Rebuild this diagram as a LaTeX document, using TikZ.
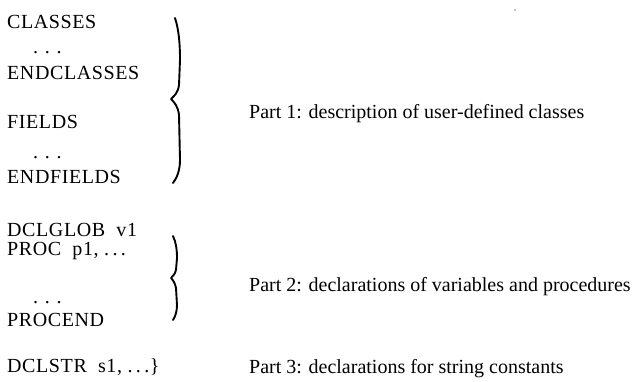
\documentclass[tikz,border=0pt]{standalone}
\usepackage{fontspec}
\setmainfont{Liberation Serif}
\begin{document}
\begin{tikzpicture}[x=1pt,y=-1pt,
  txt/.style={anchor=base west,inner sep=0pt,font=\fontsize{20}{24}\selectfont},
  code/.style={txt,font=\fontsize{20}{24}\selectfont\addfontfeatures{LetterSpace=3}},
  brace/.style={line width=1.9pt,line cap=round,line join=round}]
\useasboundingbox (0,0) rectangle (643,381);
% part 1
\node[code] (cls) at (7,28) {CLASSES};
\node[txt] (d1) at (33,53) {.\,\,.\,\,.};
\node[code] (ecls) at (7,79) {ENDCLASSES};
\node[code] (fld) at (7,128) {FIELDS};
\node[txt] (d2) at (33,158) {.\,\,.\,\,.};
\node[code] (efld) at (7,183) {ENDFIELDS};
\draw[brace] (175,18) .. controls (179,30) and (180,45) .. (180,60) -- (179,85)
  .. controls (178,93) and (174,96) .. (171,99)
  .. controls (174,102) and (178,106) .. (179,115) -- (180,160)
  .. controls (180,170) and (177,178) .. (173,183);
\node[txt] (p1) at (249,118) {Part 1: description of user-defined classes};
% part 2
\node[code] (glob) at (7,236) {DCLGLOB\ \ v1};
\node[code] (proc) at (7,255) {PROC\ \ p1, .\,.\,.};
\node[txt] (d3) at (33,303) {.\,\,.\,\,.};
\node[code] (pend) at (7,326) {PROCEND};
\draw[brace] (173,236) .. controls (176,242) and (177,250) .. (177,258) -- (176,270)
  .. controls (175,274) and (173,276) .. (171,278)
  .. controls (173,280) and (175,283) .. (176,288) -- (177,305)
  .. controls (177,312) and (175,317) .. (173,320);
\node[txt] (p2) at (249,291) {Part 2: declarations of variables and procedures};
% part 3
\node[code] (str) at (7,372) {DCLSTR\ \ s1, .\,.\,.\}};
\node[txt] (p3) at (249,373) {Part 3: declarations for string constants};
\fill (515,10) circle (0.7);
\end{tikzpicture}
\end{document}
